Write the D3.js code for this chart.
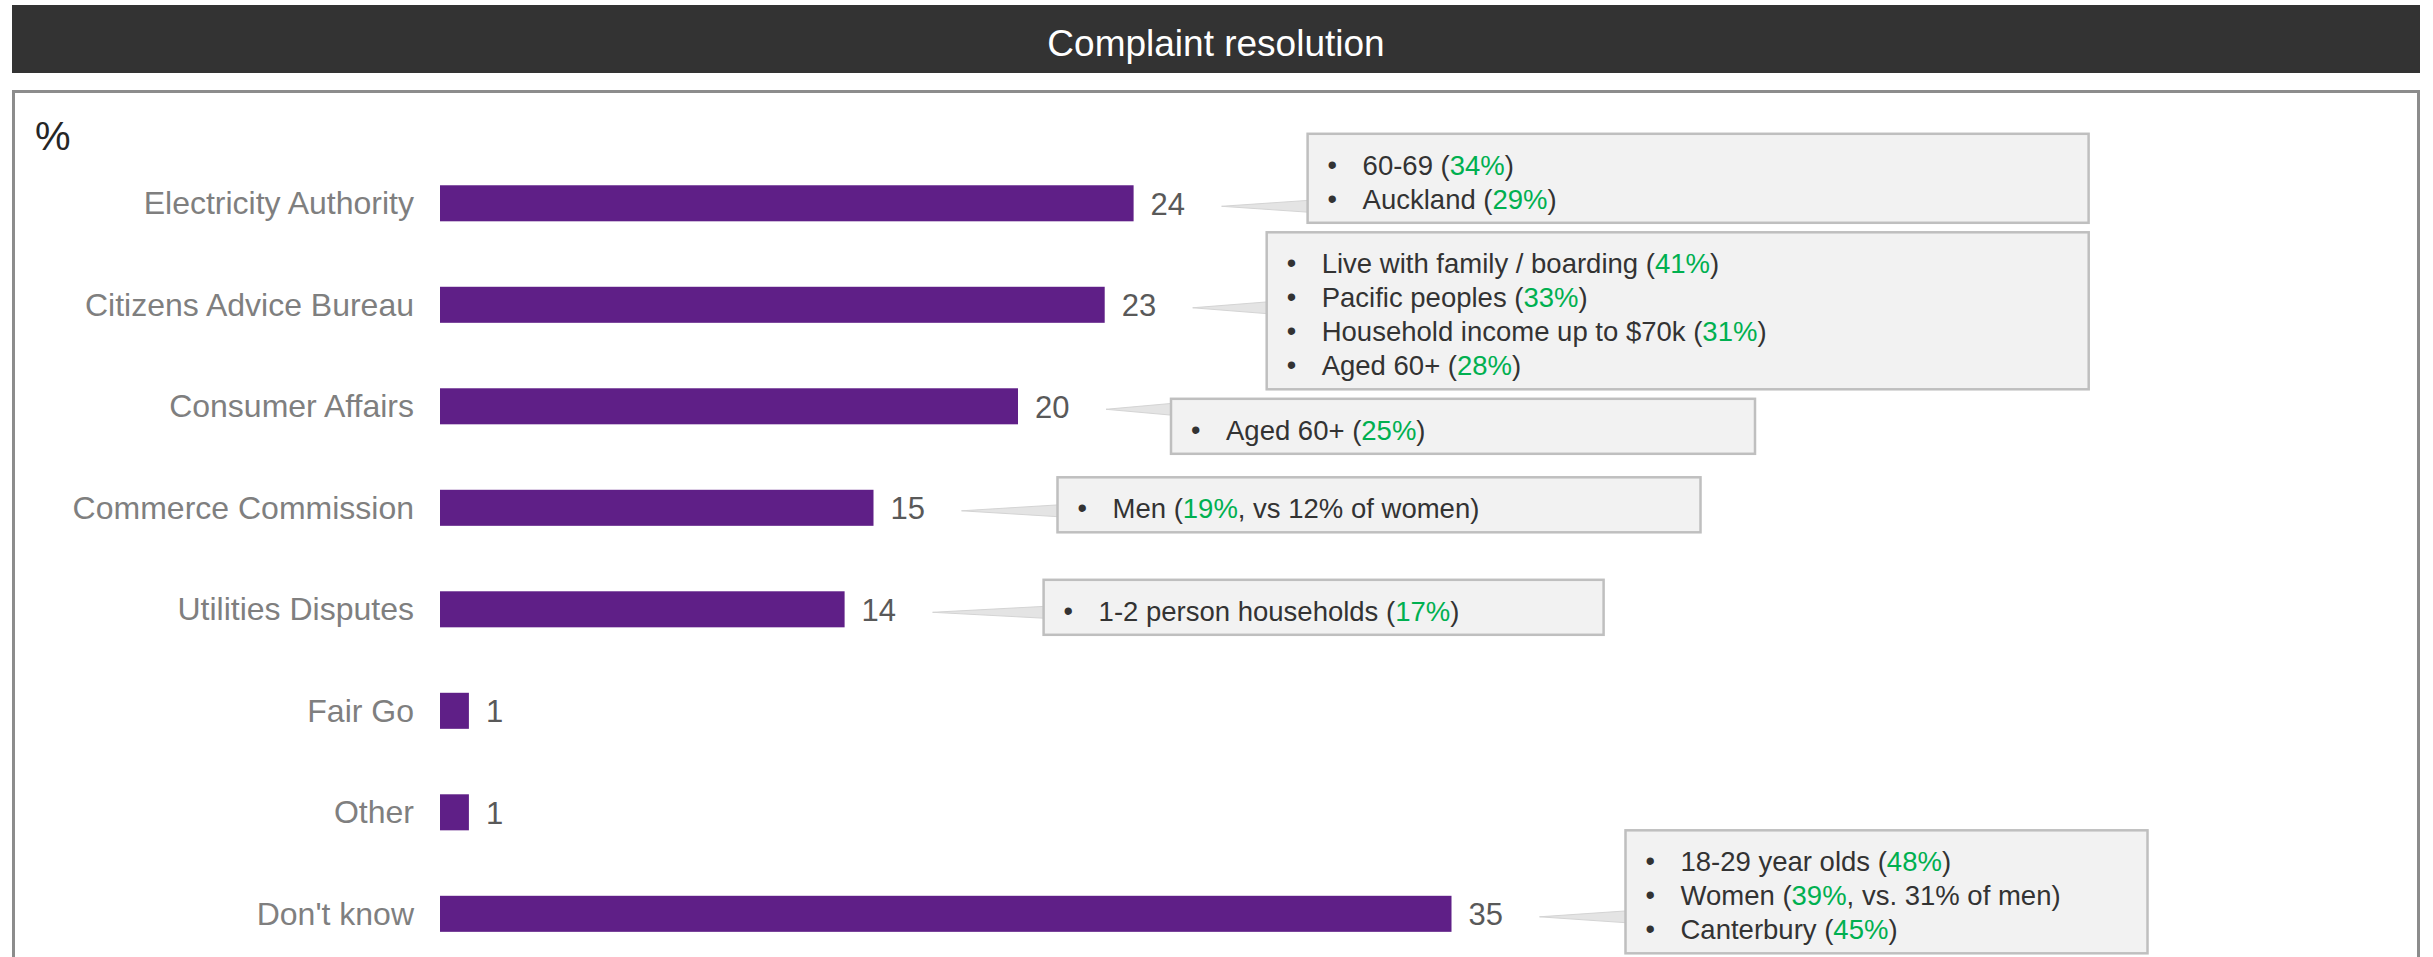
<!DOCTYPE html>
<html>
<head>
<meta charset="utf-8">
<script src="https://cdn.jsdelivr.net/npm/d3@7"></script>
<style>
  body { margin: 0; background: #fff; }
  svg { display: block; font-family: "Liberation Sans", Arial, sans-serif; }
</style>
</head>
<body>
<div id="chart"></div>
<script>
const TITLE = 'Complaint resolution';
const UNIT = '%';

const categories = ['Electricity Authority', 'Citizens Advice Bureau', 'Consumer Affairs',
  'Commerce Commission', 'Utilities Disputes', 'Fair Go', 'Other', "Don't know"];
const values = [24, 23, 20, 15, 14, 1, 1, 35];

// callout text per category: [before, green part, after]
const notes = [
  [['60-69 (', '34%', ')'], ['Auckland (', '29%', ')']],
  [['Live with family / boarding (', '41%', ')'], ['Pacific peoples (', '33%', ')'],
    ['Household income up to $70k (', '31%', ')'], ['Aged 60+ (', '28%', ')']],
  [['Aged 60+ (', '25%', ')']],
  [['Men (', '19%', ', vs 12% of women)']],
  [['1-2 person households (', '17%', ')']],
  null,
  null,
  [['18-29 year olds (', '48%', ')'], ['Women (', '39%', ', vs. 31% of men)'], ['Canterbury (', '45%', ')']],
];

// where each callout box sits: gap from bar end, box width, shift from row centre
const noteLayout = [
  { gap: 174, w: 781, dy: -25 },
  { gap: 162, w: 822, dy: 6 },
  { gap: 153, w: 584, dy: 20 },
  { gap: 184, w: 643, dy: -3 },
  { gap: 199, w: 560, dy: -2 },
  null,
  null,
  { gap: 174, w: 522, dy: -22 },
];

const W = 2433, H = 957;
const BAR = '#5f1f87', GREEN = '#00b050';
const LINE_H = 34;

const svg = d3.select('#chart').append('svg')
  .attr('width', W)
  .attr('height', H);

// title bar
svg.append('rect')
  .attr('x', 12).attr('y', 5)
  .attr('width', 2408).attr('height', 68)
  .attr('fill', '#333333');
svg.append('text')
  .attr('x', 1216).attr('y', 43)
  .attr('text-anchor', 'middle')
  .attr('dominant-baseline', 'central')
  .attr('fill', '#fff')
  .attr('font-size', 37)
  .text(TITLE);

// panel frame
svg.append('rect')
  .attr('x', 13.5).attr('y', 91.5)
  .attr('width', 2405).attr('height', 920)
  .attr('fill', 'none')
  .attr('stroke', '#8c8c8c')
  .attr('stroke-width', 3);

svg.append('text')
  .attr('x', 35).attr('y', 150)
  .attr('fill', '#262626')
  .attr('font-size', 40)
  .text(UNIT);

const x = d3.scaleLinear().domain([0, 35]).range([440, 1451.5]);
const y = d3.scaleBand()
  .domain(categories)
  .range([119.8, 997.3])
  .paddingInner(0.645)
  .paddingOuter(0.645);

const rows = categories.map((c, i) => ({ c, v: values[i], note: notes[i], lay: noteLayout[i] }));

const g = svg.append('g');

g.selectAll('rect.bar')
  .data(rows)
  .enter()
  .append('rect')
  .attr('class', 'bar')
  .attr('x', x(0))
  .attr('y', d => y(d.c))
  .attr('width', d => x(d.v) - x(0))
  .attr('height', y.bandwidth())
  .attr('fill', BAR);

// category labels
g.selectAll('text.cat')
  .data(rows)
  .enter()
  .append('text')
  .attr('class', 'cat')
  .attr('x', x(0) - 26)
  .attr('y', d => y(d.c) + y.bandwidth() / 2)
  .attr('text-anchor', 'end')
  .attr('dominant-baseline', 'central')
  .attr('fill', '#7f7f7f')
  .attr('font-size', 32)
  .text(d => d.c);

// value labels
g.selectAll('text.val')
  .data(rows)
  .enter()
  .append('text')
  .attr('class', 'val')
  .attr('x', d => x(d.v) + 17)
  .attr('y', d => y(d.c) + y.bandwidth() / 2 + 1)
  .attr('dominant-baseline', 'central')
  .attr('fill', '#595959')
  .attr('font-size', 31)
  .text(d => d.v);

// callouts
const callouts = g.selectAll('g.note')
  .data(rows.filter(d => d.note))
  .enter()
  .append('g')
  .attr('class', 'note');

callouts.each(function (d) {
  const sel = d3.select(this);
  const cy = y(d.c) + y.bandwidth() / 2;
  const left = x(d.v) + d.lay.gap;
  const n = d.note.length;
  const h = LINE_H * n + 21;
  const boxMid = cy + d.lay.dy;
  const ax = x(d.v) + 88, ay = cy + 3;

  sel.append('polygon')
    .attr('points', [[ax, ay], [left + 2, ay - 6], [left + 2, ay + 6]].map(p => p.join(',')).join(' '))
    .attr('fill', '#e4e4e4')
    .attr('stroke', '#d4d4d4')
    .attr('stroke-width', 1);

  sel.append('rect')
    .attr('x', left)
    .attr('y', boxMid - h / 2)
    .attr('width', d.lay.w)
    .attr('height', h)
    .attr('fill', '#f2f2f2')
    .attr('stroke', '#bfbfbf')
    .attr('stroke-width', 2.5);

  d.note.forEach((line, i) => {
    const ly = boxMid + (i - (n - 1) / 2) * LINE_H + 3.5;
    sel.append('text')
      .attr('x', left + 20)
      .attr('y', ly)
      .attr('dominant-baseline', 'central')
      .attr('fill', '#333')
      .attr('font-size', 27)
      .text('\u2022');
    const t = sel.append('text')
      .attr('x', left + 55)
      .attr('y', ly)
      .attr('dominant-baseline', 'central')
      .attr('fill', '#333')
      .attr('font-size', 27.5);
    t.append('tspan').text(line[0]);
    t.append('tspan').attr('fill', GREEN).text(line[1]);
    t.append('tspan').text(line[2]);
  });
});
</script>
</body>
</html>
